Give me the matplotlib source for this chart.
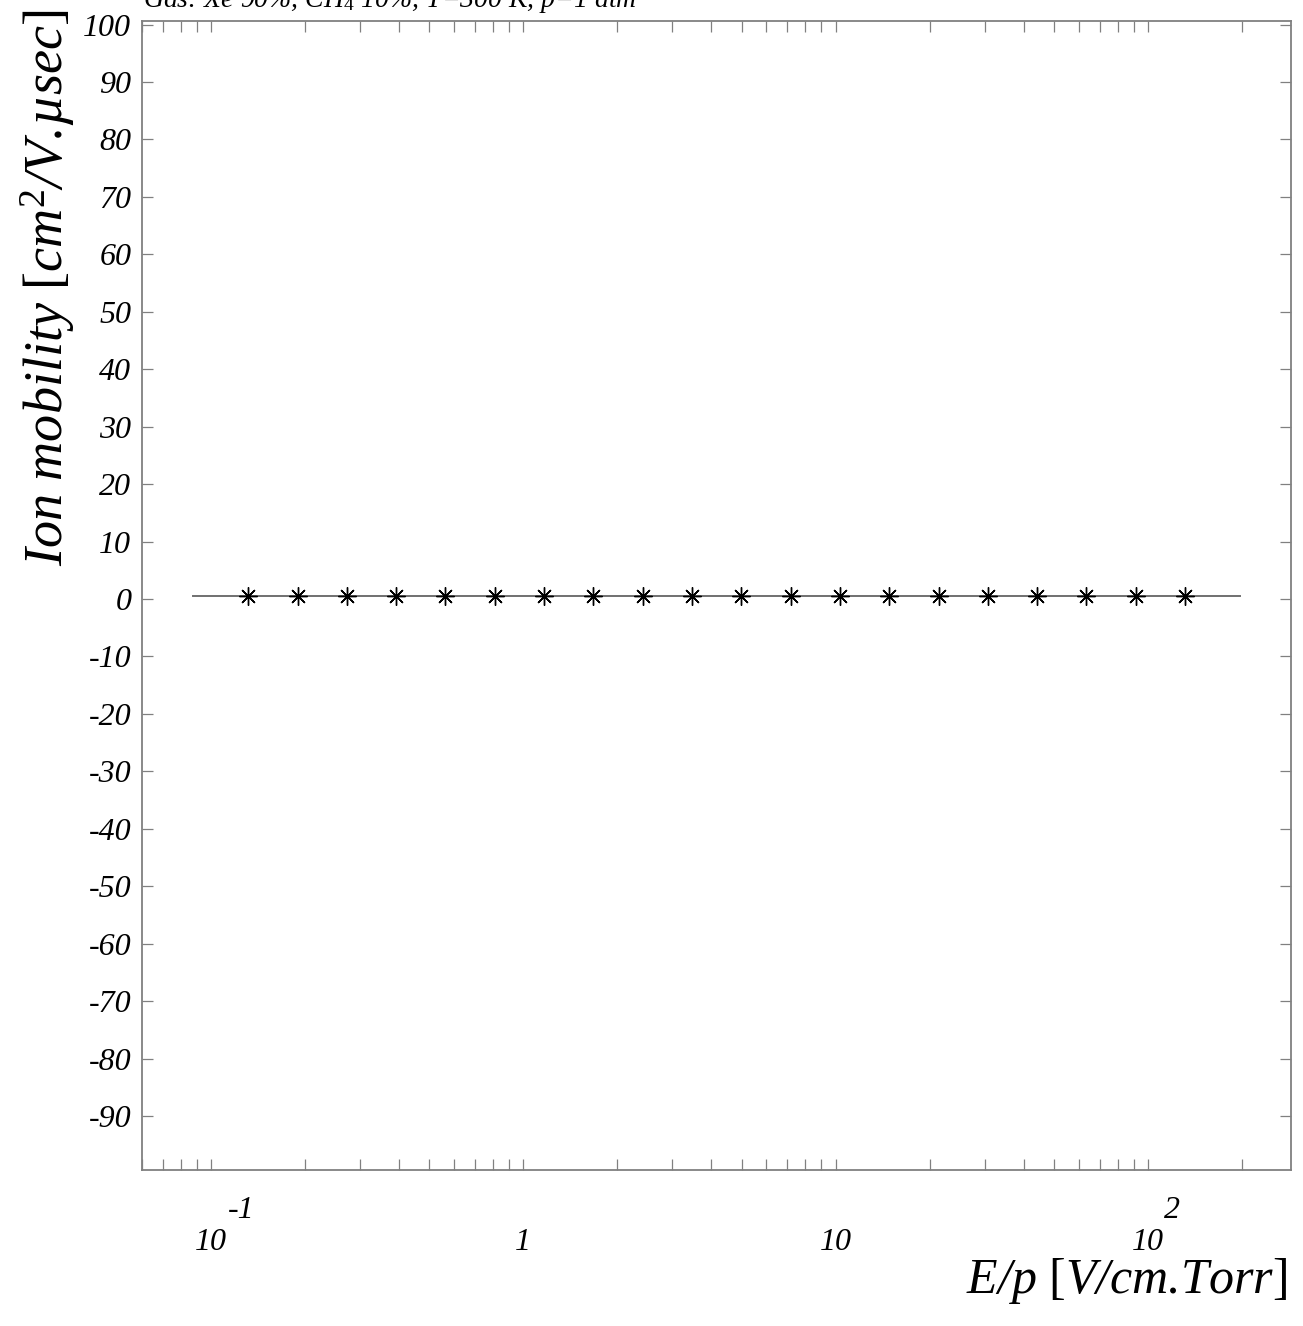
import matplotlib
matplotlib.use("Agg")
import matplotlib.pyplot as plt
from matplotlib.ticker import LogLocator, NullLocator, NullFormatter, FixedLocator

# ---------------- data ----------------
e_over_p = [0.1316, 0.1893, 0.2723, 0.3917, 0.5634, 0.8104, 1.166, 1.677,
            2.412, 3.469, 4.990, 7.178, 10.33, 14.85, 21.36, 30.73, 44.20,
            63.58, 91.45, 131.6]
mobility = [0.57] * 20
fit_x = [0.0877, 197.4]
fit_y = [0.57, 0.57]

xtick_vals = [0.1, 1, 10, 100]
xtick_base = ["10", "1", "10", "10"]
xtick_exp = ["-1", "", "", "2"]
ytick_vals = [100, 90, 80, 70, 60, 50, 40, 30, 20, 10, 0,
              -10, -20, -30, -40, -50, -60, -70, -80, -90]
ytick_labels = ["100", "90", "80", "70", "60", "50", "40", "30", "20", "10", "0",
                "-10", "-20", "-30", "-40", "-50", "-60", "-70", "-80", "-90"]

title = "Gas: Xe 90%, CH$_4$ 10%, T=300 K, p=1 atm"
xlabel = "E/p $\\mathrm{[}$V/cm.Torr$\\mathrm{]}$"
ylabel = "Ion mobility $\\mathrm{[}$cm$^2$/V.\u00b5sec$\\mathrm{]}$"

# ---------------- style ----------------
plt.rcParams['font.family'] = ['Liberation Serif', 'DejaVu Serif']
plt.rcParams['mathtext.fontset'] = 'custom'
plt.rcParams['mathtext.rm'] = 'Liberation Serif'
plt.rcParams['mathtext.it'] = 'Liberation Serif:italic'
plt.rcParams['mathtext.bf'] = 'Liberation Serif:bold'

W, H = 1303, 1326
fig = plt.figure(figsize=(W / 100, H / 100), dpi=100)
ax = fig.add_axes([141.7 / W, 1 - 1170.3 / H, (1290.7 - 141.7) / W, (1170.3 - 21) / H])

axis_col = '#808080'
ax.plot(fit_x, fit_y, color='#707070', lw=1.4, zorder=2)
ax.plot(e_over_p, mobility, linestyle='none', marker=(8, 2, 0), markersize=13,
        markeredgewidth=1.0, color='black', zorder=3)

ax.set_xscale('log')
ax.set_xlim(0.06, 286.6)
ax.set_ylim(-99.46, 100.63)

ax.xaxis.set_major_locator(FixedLocator(xtick_vals))
ax.xaxis.set_minor_locator(LogLocator(base=10, subs=[2, 3, 4, 5, 6, 7, 8, 9]))
ax.xaxis.set_major_formatter(NullFormatter())
ax.xaxis.set_minor_formatter(NullFormatter())
ax.set_yticks(ytick_vals)
ax.set_yticklabels(ytick_labels, fontstyle='italic', fontsize=23)
ax.yaxis.set_minor_locator(NullLocator())

for s in ax.spines.values():
    s.set_color(axis_col)
    s.set_linewidth(1.3)

ax.tick_params(axis='both', which='both', direction='in', top=True, right=True,
               length=7.9, width=0.9, color=axis_col)
ax.tick_params(axis='y', which='major', right=True, labelright=False, pad=7.5)

# x tick labels: base + raised exponent (Garfield style)
for v, b, e in zip(xtick_vals, xtick_base, xtick_exp):
    ax.annotate(b, xy=(v, 0), xycoords=('data', 'axes fraction'),
                xytext=(0, -72 * 0.72), textcoords='offset points',
                ha='center', va='center', fontsize=23, fontstyle='italic')
    if e:
        ax.annotate(e, xy=(v, 0), xycoords=('data', 'axes fraction'),
                    xytext=(16.5 * 0.72, -40 * 0.72), textcoords='offset points',
                    ha='left', va='center', fontsize=23, fontstyle='italic')

fig.text(1287 / W, 1 - 1293 / H, xlabel, ha='right', va='baseline',
         fontsize=36, fontstyle='italic')
fig.text(48 / W, 1 - 9 / H, ylabel, ha='center', va='top', rotation=90,
         fontsize=39, fontstyle='italic')
fig.text(143 / W, 1 - 7.3 / H, title, ha='left', va='baseline',
         fontsize=20, fontstyle='italic')

fig.savefig('out.png', dpi=100)
